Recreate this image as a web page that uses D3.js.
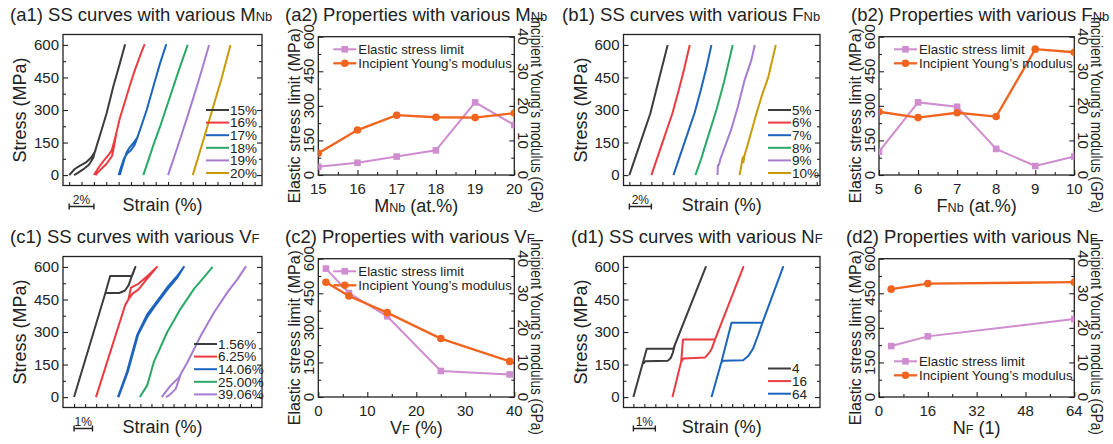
<!DOCTYPE html>
<html>
<head>
<meta charset="utf-8">
<script src="https://cdn.jsdelivr.net/npm/d3@7"></script>
<style>
  body { margin: 0; background: #fff; }
  svg { font-family: "Liberation Sans", Arial, sans-serif; }
</style>
</head>
<body>
<script>
// ---- data (strain %, stress MPa) ----
const a1Labels = ["15%", "16%", "17%", "18%", "19%", "20%"];
const a1Curves = [
  [[0,0],[0.45,28],[0.85,42],[1.4,60],[1.8,82],[2.1,110],[2.25,140],[2.62,208],[3.03,285],[3.57,408],[4.1,515],[4.51,600],[4.1,515],[3.57,408],[3.03,285],[2.62,208],[2.3,148],[2.1,112],[1.95,80],[1.6,48],[1.1,25],[0.7,10],[0.4,0]],
  [[0,0],[0.4,36],[0.8,67],[1.2,94],[1.45,115],[1.62,150],[1.84,200],[2.1,262],[2.51,338],[2.92,415],[3.32,485],[3.73,549],[4.08,600],[3.73,549],[3.32,485],[2.92,415],[2.51,338],[2.1,262],[1.84,200],[1.65,140],[1.47,88],[1.01,51],[0.53,25],[0.13,0]],
  [[0,0],[0.22,40],[0.45,78],[0.7,100],[1.0,115],[1.3,140],[1.5,170],[1.73,208],[2.27,300],[2.81,408],[3.35,515],[3.84,600],[3.35,515],[2.81,408],[2.27,300],[1.73,208],[1.5,172],[1.2,148],[0.9,128],[0.65,105],[0.45,70],[0.25,30],[0.1,0]],
  [[0,0],[0.41,69],[0.81,138],[1.35,223],[1.89,315],[2.43,408],[2.97,500],[3.59,600]],
  [[0,0],[0.8,135],[1.6,275],[2.45,430],[3.32,600]],
  [[0,0],[0.8,150],[1.6,305],[2.35,450],[3.05,600]]
];

const b1Labels = ["5%", "6%", "7%", "8%", "9%", "10%"];
const b1Curves = [
  [[0,0],[0.98,146],[1.91,285],[2.52,408],[2.98,500],[3.48,600]],
  [[0,0],[0.98,146],[1.91,285],[2.5,395],[2.98,490],[3.48,600]],
  [[0,0],[0.98,146],[1.91,285],[2.5,395],[2.98,492],[3.45,600]],
  [[0,0],[0.55,80],[0.95,146],[1.9,300],[2.6,430],[3.38,600]],
  [[0,0],[0.03,45],[0.14,48],[0.25,72],[1.23,208],[1.85,315],[2.46,438],[3.08,531],[3.38,600]],
  [[0,0],[0.15,40],[0.3,82],[0.36,60],[0.42,85],[0.77,146],[1.54,285],[2.0,362],[2.62,454],[3.29,600]]
];

const c1Labels = ["1.56%", "6.25%", "14.06%", "25.00%", "39.06%"];
const c1Curves = [
  [[0,0],[1.7,480],[1.96,558],[3.15,558],[3.33,600],[3.15,562],[2.96,515],[2.75,490],[2.45,480],[1.7,480],[0,0]],
  [[0,0],[1.58,423],[1.76,450],[1.9,505],[2.3,522],[2.75,555],[3.31,600],[2.67,535],[2.3,495],[2.0,478],[1.8,455],[1.6,428],[0,0]],
  [[0,0],[0.49,115],[1.04,285],[1.58,380],[2.13,442],[2.67,505],[3.22,558],[3.58,600],[3.2,548],[2.65,492],[2.1,430],[1.6,370],[1.1,288],[0.55,120],[0.03,0]],
  [[0,0],[0.4,54],[0.76,162],[1.49,300],[2.22,408],[2.95,500],[3.58,562],[3.95,600]],
  [[0,0],[0.13,15],[0.49,54],[0.95,92],[1.04,108],[1.4,162],[2.13,285],[2.85,392],[3.58,485],[4.13,546],[4.55,600],[4.13,546],[3.58,485],[2.85,392],[2.13,285],[1.4,162],[1.04,108],[0.76,38],[0.4,8],[0.22,0]]
];

const d1Labels = ["4", "16", "64"];
const d1Curves = [
  [[0,0],[0.42,154],[0.61,223],[1.82,223],[3.3,600],[1.9,243],[1.8,205],[1.7,180],[1.58,168],[0.55,165],[0.47,157],[0.42,154],[0,0]],
  [[0,0],[0.4,165],[0.48,266],[1.94,266],[3.23,600],[1.94,266],[1.79,223],[1.64,200],[1.48,182],[0.5,178],[0.45,170],[0.4,165],[0,0]],
  [[0,0],[0.45,162],[0.91,343],[2.32,343],[3.26,600],[2.32,343],[2.12,285],[1.89,223],[1.67,189],[1.44,170],[0.53,168],[0.48,162],[0.45,162],[0,0]]
];

// properties (elastic stress limit MPa, incipient Young's modulus GPa)
const a2X = [15, 16, 17, 18, 19, 20];
const a2Elastic = [36, 53, 80, 107, 315, 217];
const a2Young = [6.3, 13.0, 17.3, 16.7, 16.6, 17.9];

const b2X = [5, 6, 7, 8, 9, 10];
const b2Elastic = [101, 315, 296, 113, 39, 80];
const b2Young = [18.3, 16.6, 18.0, 16.9, 36.4, 35.5];

const c2X = [1.56, 6.25, 14.06, 25, 39.06];
const c2Elastic = [557, 451, 350, 113, 98];
const c2Young = [33.2, 29.2, 24.4, 16.9, 10.3];

const d2X = [4, 16, 64];
const d2Elastic = [221, 263, 338];
const d2Young = [31.2, 32.8, 33.2];

const stressTicks = [0, 150, 300, 450, 600];
const modulusTicks = [0, 10, 20, 30, 40];

const colors6 = ["#3c3c3c", "#ec3b40", "#1c64be", "#2aa866", "#a77bd0", "#c99a06"];
const pink = "#cf8ccf", orange = "#f0641e";

// ---- drawing ----
const svg = d3.select("body").append("svg").attr("width", 1113).attr("height", 444);

function rich(sel, parts) {
  parts.forEach(p => {
    sel.append("tspan").text(p[0]).attr("font-size", p[1] ? "0.7em" : null);
  });
  return sel;
}

function title(x, y, parts) {
  rich(svg.append("text").attr("x", x).attr("y", y).attr("font-size", 18.5).attr("fill", "#222"), parts);
}

function ticks(g, axis, tr, size) {
  g.append("g").attr("transform", tr)
    .call(axis.tickSize(size).tickFormat(""))
    .call(s => s.select(".domain").remove())
    .selectAll("line").attr("stroke-width", 1.1);
}

function ssPanel(o) {
  const L = o.left, R = o.right, T = o.top, B = o.top + 151;
  const x = d3.scaleLinear().domain(o.xDomain).range([L, R]);
  const y = d3.scaleLinear().domain([-48, 648]).range([B, T]);
  const g = svg.append("g").attr("color", "#222");

  ticks(g, d3.axisLeft(y).tickValues(stressTicks), `translate(${L},0)`, -5);
  ticks(g, d3.axisLeft(y).tickValues(d3.range(75, 600, 150)), `translate(${L},0)`, -3);
  ticks(g, d3.axisRight(y).tickValues(stressTicks), `translate(${R},0)`, -5);
  ticks(g, d3.axisRight(y).tickValues(d3.range(75, 600, 150)), `translate(${R},0)`, -3);
  ticks(g, d3.axisBottom(x).tickValues(d3.range(0, o.xDomain[1] - 0.01, o.step)), `translate(0,${B})`, -3.5);

  g.selectAll("text.yl").data(stressTicks).join("text")
    .attr("x", L - 4).attr("y", d => y(d)).attr("dy", "0.36em")
    .attr("text-anchor", "end").attr("font-size", 15).attr("fill", "#222").text(d => d);

  g.append("rect").attr("x", L).attr("y", T).attr("width", R - L).attr("height", B - T)
    .attr("fill", "none").attr("stroke", "#222").attr("stroke-width", 1.3);

  const line = d3.line();
  o.curves.forEach((c, i) => {
    g.append("path")
      .attr("d", line(c.map(p => [x(p[0] + i * o.shift), y(p[1])])))
      .attr("fill", "none").attr("stroke", o.colors[i]).attr("stroke-width", 2)
      .attr("stroke-linejoin", "round");
  });

  // legend
  o.labels.forEach((lab, i) => {
    const ly = o.legY + i * 12.6;
    g.append("line").attr("x1", o.legX).attr("x2", o.legX + 23).attr("y1", ly).attr("y2", ly)
      .attr("stroke", o.colors[i]).attr("stroke-width", 2);
    g.append("text").attr("x", o.legX + 24).attr("y", ly).attr("dy", "0.36em")
      .attr("font-size", 13.5).attr("fill", "#222").text(lab);
  });

  // axis titles
  g.append("text").attr("transform", `translate(${L - 37},${(T + B) / 2}) rotate(-90)`)
    .attr("text-anchor", "middle").attr("font-size", 18).attr("fill", "#222").text("Stress (MPa)");
  g.append("text").attr("x", (L + R) / 2).attr("y", T + 176)
    .attr("text-anchor", "middle").attr("font-size", 18).attr("fill", "#222").text("Strain (%)");

  // scale bar
  const by = T + 172, x0 = x(0), x1 = x(o.bar);
  g.append("path").attr("d", `M${x0},${by - 3}V${by + 3}M${x0},${by}H${x1}M${x1},${by - 3}V${by + 3}`)
    .attr("stroke", "#222").attr("stroke-width", 1.4).attr("fill", "none");
  g.append("text").attr("x", (x0 + x1) / 2).attr("y", by - 2.5).attr("text-anchor", "middle")
    .attr("font-size", 12).attr("fill", "#222").text(o.bar + "%");
}

function propPanel(o) {
  const L = o.left, R = o.right, T = o.top, B = o.top + 138.3;
  const x = d3.scaleLinear().domain(o.xDomain).range([L, R]);
  const yL = d3.scaleLinear().domain([0, 600]).range([B, T]);
  const yR = d3.scaleLinear().domain([0, 40]).range([B, T]);
  const g = svg.append("g").attr("color", "#222");

  ticks(g, d3.axisBottom(x).tickValues(o.xTicks), `translate(0,${B})`, -5);
  ticks(g, d3.axisBottom(x).tickValues(o.xMinor), `translate(0,${B})`, -3);
  ticks(g, d3.axisLeft(yL).tickValues(stressTicks), `translate(${L},0)`, -5);
  ticks(g, d3.axisLeft(yL).tickValues(d3.range(75, 600, 150)), `translate(${L},0)`, -3);
  ticks(g, d3.axisRight(yR).tickValues(modulusTicks), `translate(${R},0)`, -5);
  ticks(g, d3.axisRight(yR).tickValues(d3.range(5, 40, 10)), `translate(${R},0)`, -3);

  g.selectAll("text.xl").data(o.xTicks).join("text")
    .attr("x", d => x(d)).attr("y", B + 19).attr("text-anchor", "middle")
    .attr("font-size", 15).attr("fill", "#222").text(d => d);
  g.selectAll("text.yl").data(stressTicks).join("text")
    .attr("transform", d => `translate(${L - 4.5},${yL(d)}) rotate(-90)`).attr("text-anchor", "middle")
    .attr("font-size", 15).attr("fill", "#222").text(d => d);
  g.selectAll("text.yr").data(modulusTicks).join("text")
    .attr("transform", d => `translate(${R + 3.5},${yR(d)}) rotate(90)`).attr("text-anchor", "middle")
    .attr("font-size", 15).attr("fill", "#222").text(d => d);

  g.append("rect").attr("x", L).attr("y", T).attr("width", R - L).attr("height", B - T)
    .attr("fill", "none").attr("stroke", "#222").attr("stroke-width", 1.3);

  g.append("clipPath").attr("id", o.id).append("rect")
    .attr("x", L).attr("y", T).attr("width", R - L).attr("height", B - T);
  const pg = g.append("g").attr("clip-path", `url(#${o.id})`);

  const el = o.x.map((v, i) => [x(v), yL(o.elastic[i])]);
  const yo = o.x.map((v, i) => [x(v), yR(o.young[i])]);
  pg.append("path").attr("d", d3.line()(el)).attr("fill", "none").attr("stroke", pink).attr("stroke-width", 2);
  pg.selectAll("rect.m").data(el).join("rect")
    .attr("x", d => d[0] - 3.3).attr("y", d => d[1] - 3.3).attr("width", 6.6).attr("height", 6.6).attr("fill", pink);
  pg.append("path").attr("d", d3.line()(yo)).attr("fill", "none").attr("stroke", orange).attr("stroke-width", 2.3);
  pg.selectAll("circle.m").data(yo).join("circle")
    .attr("cx", d => d[0]).attr("cy", d => d[1]).attr("r", 3.8).attr("fill", orange);

  // legend
  const lx = L + 15, rows = [T + o.legDy, T + o.legDy + 14];
  g.append("line").attr("x1", lx).attr("x2", lx + 23).attr("y1", rows[0]).attr("y2", rows[0]).attr("stroke", pink).attr("stroke-width", 2);
  g.append("rect").attr("x", lx + 11.5 - 3.3).attr("y", rows[0] - 3.3).attr("width", 6.6).attr("height", 6.6).attr("fill", pink);
  g.append("line").attr("x1", lx).attr("x2", lx + 23).attr("y1", rows[1]).attr("y2", rows[1]).attr("stroke", orange).attr("stroke-width", 2.3);
  g.append("circle").attr("cx", lx + 11.5).attr("cy", rows[1]).attr("r", 3.8).attr("fill", orange);
  ["Elastic stress limit", "Incipient Young\u2019s modulus"].forEach((t, i) => {
    g.append("text").attr("x", lx + 25).attr("y", rows[i]).attr("dy", "0.36em")
      .attr("font-size", 13.3).attr("fill", "#222").text(t);
  });

  // axis titles
  g.append("text").attr("transform", `translate(${L - 18.5},${T + 79}) rotate(-90)`)
    .attr("text-anchor", "middle").attr("font-size", 16).attr("fill", "#222").text("Elastic stress limit (MPa)");
  g.append("text").attr("transform", `translate(${R + 17},${T + 78}) rotate(90)`)
    .attr("text-anchor", "middle").attr("font-size", 16).attr("fill", "#222")
    .attr("textLength", 196).attr("lengthAdjust", "spacingAndGlyphs").text("Incipient Young\u2019s modulus (GPa)");
  rich(g.append("text").attr("x", (L + R) / 2).attr("y", T + 175).attr("text-anchor", "middle")
    .attr("font-size", 18).attr("fill", "#222"), o.xTitle);
}

// titles
title(10, 21, [["(a1) SS curves with various M"], ["Nb", 1]]);
title(285, 21, [["(a2) Properties with various M"], ["Nb", 1]]);
title(562, 21, [["(b1) SS curves with various F"], ["Nb", 1]]);
title(851, 21, [["(b2) Properties with various F"], ["Nb", 1]]);
title(10, 243, [["(c1) SS curves with various V"], ["F", 1]]);
title(285, 243, [["(c2) Properties with various V"], ["F", 1]]);
title(571, 243, [["(d1) SS curves with various N"], ["F", 1]]);
title(846, 243, [["(d2) Properties with various N"], ["F", 1]]);

ssPanel({ left: 63, right: 262, top: 34.5, xDomain: [-0.5, 15.6], step: 1, shift: 2, bar: 2,
  curves: a1Curves, labels: a1Labels, colors: colors6, legX: 206, legY: 110 });
ssPanel({ left: 623.5, right: 820, top: 34.5, xDomain: [-0.53, 17.3], step: 1, shift: 2, bar: 2,
  curves: b1Curves, labels: b1Labels, colors: colors6, legX: 768, legY: 110 });
ssPanel({ left: 63, right: 262, top: 256.5, xDomain: [-0.6, 10.2], step: 0.6, shift: 1.19, bar: 1,
  curves: c1Curves, labels: c1Labels, colors: colors6.slice(0, 5), legX: 194, legY: 344 });
ssPanel({ left: 623.5, right: 820, top: 256.5, xDomain: [-0.45, 8.5], step: 0.5, shift: 1.78, bar: 1,
  curves: d1Curves, labels: d1Labels, colors: colors6.slice(0, 3), legX: 768, legY: 368.5 });

propPanel({ id: "ca2", left: 318.3, right: 514.3, top: 36.7, xDomain: [15, 20],
  xTicks: [15, 16, 17, 18, 19, 20], xMinor: d3.range(15.5, 20, 1), x: a2X, elastic: a2Elastic, young: a2Young,
  legDy: 12.6, xTitle: [["M"], ["Nb", 1], [" (at.%)"]] });
propPanel({ id: "cb2", left: 879, right: 1074.3, top: 36.7, xDomain: [5, 10],
  xTicks: [5, 6, 7, 8, 9, 10], xMinor: d3.range(5.5, 10, 1), x: b2X, elastic: b2Elastic, young: b2Young,
  legDy: 12.6, xTitle: [["F"], ["Nb", 1], [" (at.%)"]] });
propPanel({ id: "cc2", left: 318.3, right: 514.3, top: 258.7, xDomain: [0, 40],
  xTicks: [0, 10, 20, 30, 40], xMinor: d3.range(5, 40, 10), x: c2X, elastic: c2Elastic, young: c2Young,
  legDy: 12.6, xTitle: [["V"], ["F", 1], [" (%)"]] });
propPanel({ id: "cd2", left: 879, right: 1074.3, top: 258.7, xDomain: [0, 64],
  xTicks: [0, 16, 32, 48, 64], xMinor: d3.range(8, 64, 16), x: d2X, elastic: d2Elastic, young: d2Young,
  legDy: 102.6, xTitle: [["N"], ["F", 1], [" (1)"]] });
</script>
</body>
</html>
